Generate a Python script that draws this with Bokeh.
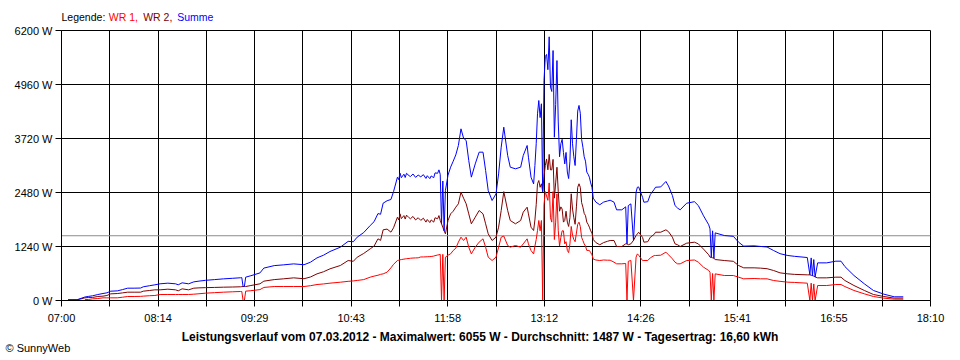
import numpy as np
from bokeh.plotting import figure
from bokeh.models import FixedTicker, Span, ColumnDataSource
from bokeh.layouts import column
from bokeh.core.properties import value
from bokeh.embed import file_html
from bokeh.resources import INLINE

# ---------------- data ----------------
times = [
    "07:05", "07:12", "07:18", "07:21", "07:24", "07:28", "07:32", "07:35", "07:38", "07:43",
    "07:47", "07:51", "07:56", "08:01", "08:03", "08:08", "08:12", "08:16", "08:22", "08:28",
    "08:30", "08:33", "08:38", "08:42", "08:46", "08:51", "08:58", "09:05", "09:12", "09:18",
    "09:19", "09:20", "09:21", "09:22", "09:26", "09:33", "09:36", "09:44", "09:51", "09:59",
    "10:07", "10:12", "10:17", "10:22", "10:27", "10:35", "10:41", "10:45", "10:48", "10:53",
    "10:58", "11:01", "11:04", "11:06", "11:08", "11:11", "11:14", "11:16", "11:19", "11:20",
    "11:21", "11:22", "11:24", "11:25", "11:26", "11:28", "11:29", "11:31", "11:33", "11:35",
    "11:37", "11:39", "11:41", "11:42", "11:44", "11:45", "11:47", "11:48", "11:50", "11:51",
    "11:52", "11:53", "11:54", "11:55", "11:56", "11:58", "12:00", "12:02", "12:04", "12:06",
    "12:08", "12:10", "12:12", "12:14", "12:16", "12:19", "12:22", "12:25", "12:27", "12:29",
    "12:32", "12:35", "12:37", "12:39", "12:41", "12:44", "12:46", "12:50", "12:54", "12:56",
    "12:59", "13:00", "13:02", "13:04", "13:05", "13:06", "13:07", "13:08", "13:09", "13:10",
    "13:11", "13:12", "13:13", "13:14", "13:15", "13:16", "13:17", "13:18", "13:19", "13:20",
    "13:21", "13:22", "13:23", "13:24", "13:25", "13:26", "13:27", "13:28", "13:29", "13:30",
    "13:31", "13:32", "13:33", "13:34", "13:35", "13:36", "13:37", "13:38", "13:39", "13:40",
    "13:41", "13:42", "13:43", "13:44", "13:45", "13:46", "13:47", "13:48", "13:49", "13:50",
    "13:52", "13:55", "13:58", "14:01", "14:03", "14:06", "14:08", "14:12", "14:15", "14:16",
    "14:17", "14:19", "14:21", "14:23", "14:24", "14:25", "14:28", "14:29", "14:32", "14:34",
    "14:37", "14:38", "14:42", "14:46", "14:48", "14:51", "14:53", "14:55", "14:57", "15:02",
    "15:08", "15:11", "15:15", "15:19", "15:20", "15:21", "15:22", "15:23", "15:24", "15:31",
    "15:38", "15:42", "15:46", "15:54", "15:59", "16:04", "16:09", "16:14", "16:20", "16:25",
    "16:35", "16:37", "16:38", "16:39", "16:40", "16:41", "16:43", "16:50", "16:57", "17:01",
    "17:04", "17:11", "17:19", "17:26", "17:34", "17:42", "17:49",
]

wr1 = [
    None, None, 20, 25, 38, 45, 61, 61, 61, 61,
    75, 92, 92, 95, 100, 110, 115, 138, 138, 138,
    138, 138, 138, 145, 155, 168, 180, 191, 200, 207,
    207, 0, 0, 215, 225, 250, 300, 321, 321, 321,
    321, 340, 367, 380, 398, 420, 440, 450, 460, 480,
    536, 560, 580, 600, 612, 650, 750, 830, 918, 925,
    934, 940, 950, 955, 960, 965, 970, 975, 978, 980,
    1000, 1000, 1003, 1005, 1008, 1010, 1020, 1030, 1045, 1050,
    1060, 0, 1060, 0, 995, 1040, 1071, 1148, 1200, 1340,
    1454, 1378, 1454, 1224, 1071, 1224, 1340, 1416, 1224, 995,
    918, 995, 1224, 1454, 1480, 1263, 1224, 1263, 1224, 1301,
    1416, 1301, 1148, 1071, 1250, 1400, 1607, 1837, 1600, 1837,
    0, 2200, 2500, 2400, 2300, 2700, 1900, 1800, 2500, 1400,
    1800, 2450, 1600, 1250, 1450, 1600, 1600, 1300, 1350, 1150,
    1100, 1300, 1700, 1500, 1400, 1350, 1550, 1750, 1799, 1700,
    1450, 1377, 1300, 1250, 1150, 1150, 1148, 1100, 1050, 950,
    930, 918, 930, 925, 925, 880, 842, 842, 850, 0,
    900, 918, 0, 995, 1071, 1040, 918, 918, 918, 980,
    1033, 1033, 1040, 1110, 1050, 957, 880, 842, 842, 918,
    930, 880, 765, 689, 650, 0, 620, 0, 612, 574,
    574, 536, 498, 505, 498, 498, 459, 440, 421, 415,
    398, 0, 398, 0, 380, 0, 344, 344, 367, 367,
    320, 230, 153, 92, 54, 31, 30,
]

wr2 = [
    16, 16, 60, 70, 70, 92, 100, 115, 153, 160,
    175, 191, 191, 191, 214, 230, 245, 245, 260, 245,
    222, 268, 245, 283, 290, 295, 300, 306, 310, 315,
    318, 321, 321, 321, 344, 383, 444, 480, 497, 520,
    500, 540, 612, 660, 727, 804, 918, 900, 995, 1080,
    1186, 1250, 1416, 1380, 1623, 1640, 1570, 1669, 1913, 1850,
    1990, 1880, 1950, 1870, 1960, 1900, 1876, 1930, 1850, 1900,
    1840, 1890, 1800, 1860, 1790, 1850, 1800, 1900, 1876, 1950,
    1837, 1760, 1683, 1600, 1531, 1837, 1990, 2050, 2143, 2220,
    2488, 2350, 2220, 1990, 1761, 1913, 2066, 1990, 1761, 1531,
    1378, 1454, 1683, 2066, 2500, 2066, 1837, 1761, 1837, 2028,
    2143, 1990, 1683, 1607, 1850, 2200, 2680, 2755, 2600, 2680,
    2500, 2850, 3100, 3250, 3000, 3355, 3000, 3000, 3240, 2350,
    2700, 3060, 2500, 2050, 2150, 2100, 1800, 1837, 2050, 1800,
    1700, 1900, 2450, 2100, 1900, 1750, 2150, 2600, 2680, 2600,
    2250, 2143, 2000, 1950, 1800, 1750, 1683, 1600, 1550, 1400,
    1330, 1280, 1330, 1360, 1378, 1378, 1240, 1240, 1301, 1301,
    1280, 1301, 1380, 1492, 1530, 1568, 1450, 1339, 1350, 1454,
    1520, 1568, 1568, 1623, 1580, 1454, 1301, 1280, 1240, 1316,
    1339, 1300, 1180, 1050, 995, 990, 980, 970, 941, 918,
    900, 804, 750, 750, 743, 730, 689, 635, 612, 600,
    589, 589, 580, 570, 560, 540, 520, 520, 536, 536,
    459, 344, 230, 138, 92, 54, 55,
]

y_ticks = [0, 1240, 2480, 3720, 4960, 6200]
x_tick_labels = ["07:00", "08:14", "09:29", "10:43", "11:58",
                 "13:12", "14:26", "15:41", "16:55", "18:10"]
average_w = 1487
legend_words = ["Legende:", "WR 1,", "WR 2,", "Summe"]
legend_colors = ["#000000", "#ff0000", "#800000", "#0000ff"]
caption = ("Leistungsverlauf vom 07.03.2012 - Maximalwert: 6055 W - "
           "Durchschnitt: 1487 W - Tagesertrag: 16,60 kWh")
credit = "\u00a9 SunnyWeb"

# ---------------- preparation ----------------
def to_min(s):
    h, m = s.split(":")
    return int(h) * 60 + int(m)

t = np.array([to_min(s) for s in times], dtype=float)
w1 = np.array([np.nan if v is None else v for v in wr1], dtype=float)
w2 = np.array(wr2, dtype=float)
summe = np.nan_to_num(w1) + w2

x0, x1 = to_min(x_tick_labels[0]), to_min(x_tick_labels[-1])
n_div = 2 * (len(x_tick_labels) - 1)
grid_pos = [x0 + i * (x1 - x0) / n_div for i in range(n_div + 1)]
x_over = {pos: (x_tick_labels[i // 2] if i % 2 == 0 else "") for i, pos in enumerate(grid_pos)}

FONT = "Liberation Sans"
W = 960


def strip(h):
    f = figure(width=W, height=h, x_range=(0, W), y_range=(h, 0),
               x_axis_type=None, y_axis_type=None, title=None,
               output_backend="svg", toolbar_location=None, min_border=0,
               frame_align=False,
               background_fill_color="white", border_fill_color="white")
    f.outline_line_color = None
    return f


# ---- top strip: coloured legend text ----
top = strip(24)
top_src = ColumnDataSource(dict(x=[61, 108.3, 142.7, 176.7], y=[16.2] * 4,
                                text=legend_words, color=legend_colors))
top.text(x="x", y="y", text="text", text_color="color", source=top_src,
         text_font=value(FONT), text_font_size=value("10.5px"),
         text_baseline=value("middle"), text_align=value("left"))

# ---- main chart ----
p = figure(width=W, height=302, x_range=(x0, x1), y_range=(0, y_ticks[-1]),
           output_backend="svg", toolbar_location=None, title=None,
           min_border_left=61, min_border_right=30, min_border_top=6, min_border_bottom=26,
           frame_align=False,
           background_fill_color="white", border_fill_color="white")
p.outline_line_color = "black"
p.outline_line_alpha = 1.0

p.xaxis.ticker = FixedTicker(ticks=grid_pos, minor_ticks=[])
p.xgrid.ticker = FixedTicker(ticks=grid_pos, minor_ticks=[])
p.yaxis.ticker = FixedTicker(ticks=y_ticks, minor_ticks=[])
p.ygrid.ticker = FixedTicker(ticks=y_ticks, minor_ticks=[])
p.xaxis.major_label_overrides = x_over
p.yaxis.major_label_overrides = {v: f"{v} W" for v in y_ticks}

for ax in (p.xaxis, p.yaxis):
    ax.axis_line_color = "black"
    ax.major_tick_line_color = "black"
    ax.minor_tick_line_color = None
    ax.major_tick_in = 0
    ax.major_tick_out = 6
    ax.major_label_text_font = FONT
    ax.major_label_text_font_size = "11px"
    ax.major_label_text_color = "black"
p.yaxis.major_label_standoff = 3
p.xaxis.major_label_standoff = 5

p.grid.grid_line_color = "black"
p.grid.grid_line_alpha = 1.0
p.grid.grid_line_width = 1

p.add_layout(Span(location=average_w, dimension="width", line_color="#8c8c8c",
                  line_width=1, level="underlay"))

p.line(t, w2, line_color="#800000", line_width=1)
p.line(t, w1, line_color="#ff0000", line_width=1)
p.line(t, summe, line_color="#0000ff", line_width=1)

# ---- bottom strip: caption and credit ----
bot = strip(34)
bot.text(x=[479.5], y=[10.8], text=[caption], text_color="black",
         text_font=value(FONT), text_font_size=value("12px"), text_font_style=value("bold"),
         text_baseline=value("middle"), text_align=value("center"))
bot.text(x=[5], y=[21.2], text=[credit], text_color="black",
         text_font=value(FONT), text_font_size=value("11px"),
         text_baseline=value("middle"), text_align=value("left"))

layout = column(top, p, bot, spacing=0)
open("out.html", "w").write(file_html(layout, INLINE))
